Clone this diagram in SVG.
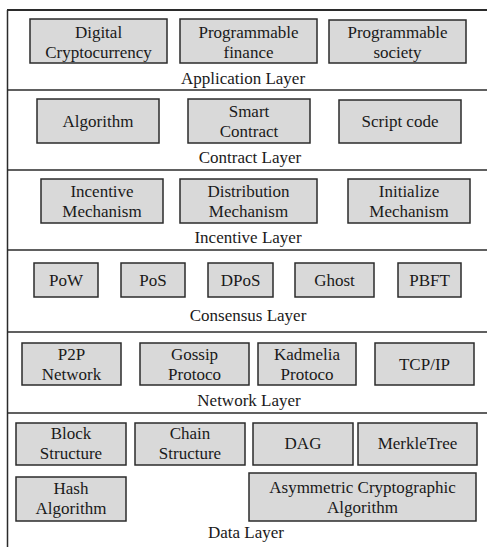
<svg xmlns="http://www.w3.org/2000/svg" width="487" height="547" viewBox="0 0 487 547">
  <style>
    .box { fill: #d9d9d9; stroke: #2b2b2b; stroke-width: 1.5; }
    .sep { stroke: #2b2b2b; stroke-width: 1.5; fill: none; }
    text { font-family: "Liberation Serif", "Times New Roman", serif; font-size: 17px; fill: #1a1a1a; text-anchor: middle; }
  </style>
  <rect width="487" height="547" fill="#ffffff"/>

  <!-- layer frame and separators -->
  <g id="frame">
    <line class="sep" x1="7" y1="10" x2="487" y2="10" style="stroke-width:2.2"/>
    <line class="sep" x1="7.5" y1="10" x2="7.5" y2="547"/>
    <line class="sep" x1="7" y1="90" x2="487" y2="90"/>
    <line class="sep" x1="7" y1="170" x2="487" y2="170"/>
    <line class="sep" x1="7" y1="250" x2="487" y2="250"/>
    <line class="sep" x1="7" y1="332" x2="487" y2="332"/>
    <line class="sep" x1="7" y1="413" x2="487" y2="413"/>
  </g>

  <!-- Application Layer -->
  <g id="application-layer">
    <g id="digital-cryptocurrency"><rect class="box" x="30" y="19" width="137" height="44"/><text x="98.5" y="38">Digital</text><text x="98.5" y="58">Cryptocurrency</text></g>
    <g id="programmable-finance"><rect class="box" x="180" y="19" width="137" height="44"/><text x="248.5" y="38">Programmable</text><text x="248.5" y="58">finance</text></g>
    <g id="programmable-society"><rect class="box" x="329" y="20" width="137" height="43"/><text x="397.5" y="38">Programmable</text><text x="397.5" y="58">society</text></g>
    <text x="243" y="84">Application Layer</text>
  </g>

  <!-- Contract Layer -->
  <g id="contract-layer">
    <g id="algorithm"><rect class="box" x="37" y="99" width="122" height="44"/><text x="98" y="127">Algorithm</text></g>
    <g id="smart-contract"><rect class="box" x="188" y="99" width="122" height="44"/><text x="249" y="117">Smart</text><text x="249" y="137">Contract</text></g>
    <g id="script-code"><rect class="box" x="339" y="100" width="122" height="43"/><text x="400" y="127">Script code</text></g>
    <text x="250" y="163">Contract Layer</text>
  </g>

  <!-- Incentive Layer -->
  <g id="incentive-layer">
    <g id="incentive-mechanism"><rect class="box" x="41" y="179" width="122" height="44"/><text x="102" y="197">Incentive</text><text x="102" y="217">Mechanism</text></g>
    <g id="distribution-mechanism"><rect class="box" x="180" y="179" width="137" height="44"/><text x="248.5" y="197">Distribution</text><text x="248.5" y="217">Mechanism</text></g>
    <g id="initialize-mechanism"><rect class="box" x="348" y="179" width="122" height="44"/><text x="409" y="197">Initialize</text><text x="409" y="217">Mechanism</text></g>
    <text x="248" y="243">Incentive Layer</text>
  </g>

  <!-- Consensus Layer -->
  <g id="consensus-layer">
    <g id="pow"><rect class="box" x="34" y="263" width="64" height="34"/><text x="66" y="286">PoW</text></g>
    <g id="pos"><rect class="box" x="121" y="263" width="64" height="34"/><text x="153" y="286">PoS</text></g>
    <g id="dpos"><rect class="box" x="208" y="263" width="65" height="34"/><text x="240.5" y="286">DPoS</text></g>
    <g id="ghost"><rect class="box" x="295" y="263" width="79" height="34"/><text x="334.5" y="286">Ghost</text></g>
    <g id="pbft"><rect class="box" x="398" y="263" width="63" height="34"/><text x="429.5" y="286">PBFT</text></g>
    <text x="248" y="321">Consensus Layer</text>
  </g>

  <!-- Network Layer -->
  <g id="network-layer">
    <g id="p2p-network"><rect class="box" x="22" y="343" width="99" height="42"/><text x="71.5" y="360">P2P</text><text x="71.5" y="380">Network</text></g>
    <g id="gossip-protoco"><rect class="box" x="140" y="343" width="109" height="42"/><text x="194.5" y="360">Gossip</text><text x="194.5" y="380">Protoco</text></g>
    <g id="kadmelia-protoco"><rect class="box" x="258" y="343" width="98" height="42"/><text x="307" y="360">Kadmelia</text><text x="307" y="380">Protoco</text></g>
    <g id="tcp-ip"><rect class="box" x="375" y="343" width="99" height="42"/><text x="424.5" y="370">TCP/IP</text></g>
    <text x="249" y="406">Network Layer</text>
  </g>

  <!-- Data Layer -->
  <g id="data-layer">
    <g id="block-structure"><rect class="box" x="16" y="423" width="110" height="42"/><text x="71" y="439">Block</text><text x="71" y="459">Structure</text></g>
    <g id="chain-structure"><rect class="box" x="135" y="423" width="110" height="42"/><text x="190" y="439">Chain</text><text x="190" y="459">Structure</text></g>
    <g id="dag"><rect class="box" x="253" y="423" width="100" height="42"/><text x="303" y="449">DAG</text></g>
    <g id="merkletree"><rect class="box" x="358" y="423" width="119" height="42"/><text x="417.5" y="449">MerkleTree</text></g>
    <g id="hash-algorithm"><rect class="box" x="16" y="477" width="110" height="44"/><text x="71" y="494">Hash</text><text x="71" y="514">Algorithm</text></g>
    <g id="asymmetric-cryptographic-algorithm"><rect class="box" x="249" y="473" width="227" height="48"/><text x="362.5" y="493">Asymmetric Cryptographic</text><text x="362.5" y="513">Algorithm</text></g>
    <text x="246" y="538">Data Layer</text>
  </g>
</svg>
